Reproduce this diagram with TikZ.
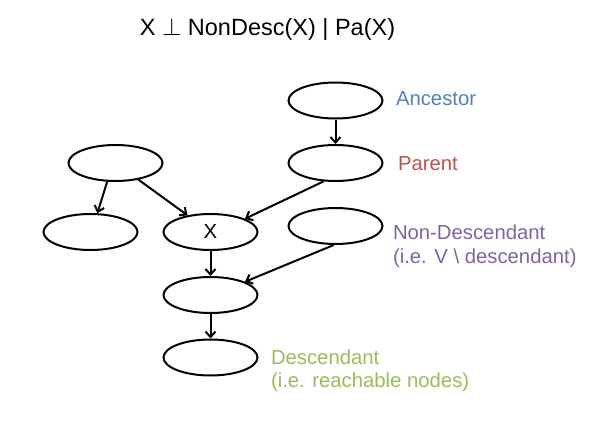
\documentclass[tikz,border=0pt]{standalone}
\usepackage{fontspec}
\setmainfont{Liberation Sans}
\usepackage{tikz}
\usetikzlibrary{arrows.meta,shapes.geometric}
\definecolor{AncBlue}{RGB}{79,129,189}
\definecolor{ParRed}{RGB}{192,80,77}
\definecolor{NonPurple}{RGB}{128,100,162}
\definecolor{DescGreen}{RGB}{155,187,89}

\begin{document}
\begin{tikzpicture}[x=1pt, y=-1pt, -{Straight Barb[length=5.5pt,width=10pt]}, line width=2pt,
      every node/.append style={font=\fontsize{20.3}{24}\selectfont}]
    \tikzstyle{var} = [ellipse, draw, minimum width=94pt, minimum height=36pt, inner sep=0pt]
    \tikzstyle{tag} = [anchor=base west, inner sep=0pt]
    \tikzstyle{tagtwo} = [anchor=north west, align=left, inner sep=0pt]
    \useasboundingbox (0,0) rectangle (598,423);
    \node (title) [anchor=base, font=\fontsize{23.5}{28}\selectfont] at (267.5,35) {X $\perp$ NonDesc(X) | Pa(X)};
    % the graph
    \node (anc) [var] at (335.5,100.5) {};
    \node (par) [var] at (335.5,163) {};
    \node (lt) [var] at (115.5,163) {};
    \node (lb) [var] at (90.5,232) {};
    \node (x) [var] at (210.5,232) {X};
    \node (nd) [var] at (335.5,226) {};
    \node (mid) [var] at (210.5,295) {};
    \node (desc) [var] at (210.5,357.5) {};
    % the labels
    \node (ancT) [tag, text=AncBlue] at (395,105) {Ancestor};
    \node (parT) [tag, text=ParRed] at (397,170) {Parent};
    \node (ndT) [tagtwo, text=NonPurple, font=\fontsize{20.3}{24.5}\selectfont] at (392,223.7) {Non-Descendant\\(i.e. V \textbackslash\ descendant)};
    \node (descT) [tagtwo, text=DescGreen, font=\fontsize{20.3}{22.5}\selectfont] at (270,349) {Descendant\\(i.e. reachable nodes)};
    \draw (anc) -- (par);
    \draw (lt.-114) -- (lb.70);
    \draw (lt) -- (x);
    \draw (par.-123) -- (x.21);
    \draw (x) -- (mid);
    \draw (nd.-95) -- (mid.21);
    \draw (mid) -- (desc);
\end{tikzpicture}
\end{document}
